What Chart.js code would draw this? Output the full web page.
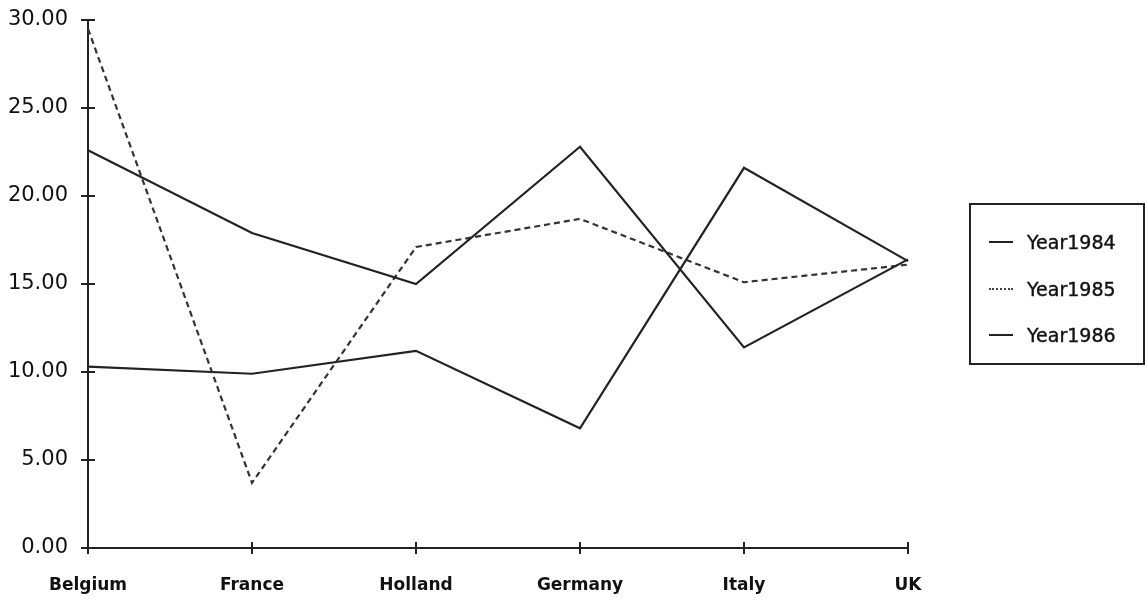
<!DOCTYPE html>
<html lang="en">
<head>
<meta charset="UTF-8" />
<title>Year 1984 - 1986</title>
<script src="https://cdn.jsdelivr.net/npm/chart.js"></script>
<style>
  body { margin: 0; background: #fff; }
  .wrap { position: relative; width: 1145px; height: 604px; }
  #legend {
    position: absolute; left: 969px; top: 203px; width: 172px; height: 158px;
    border: 2px solid #222; box-sizing: content-box;
    font-family: "DejaVu Sans", sans-serif; font-size: 19px; color: #111;
    -webkit-text-stroke: 0.4px #111;
  }
  #legend .row { position: absolute; left: 0; height: 24px; display: flex; align-items: center; }
  #legend .sample { width: 24px; margin-left: 18px; margin-right: 14px; border-top: 2px solid #222; }
  #legend .sample.dash { border-top: 2px dotted #444; }
</style>
</head>
<body>
<div class="wrap">
  <canvas id="chart" width="1145" height="604"></canvas>
  <div id="legend"></div>
</div>
<script>
  const countries = ["Belgium", "France", "Holland", "Germany", "Italy", "UK"];
  const year1984 = [22.6, 17.9, 15.0, 22.8, 11.4, 16.4];
  const year1985 = [29.5, 3.7, 17.1, 18.7, 15.1, 16.1];
  const year1986 = [10.3, 9.9, 11.2, 6.8, 21.6, 16.3];
  const seriesNames = ["Year1984", "Year1985", "Year1986"];
  const yMin = 0, yMax = 30, yStep = 5;

  // legend drawn as html, box at the right
  const legend = document.getElementById("legend");
  seriesNames.forEach((name, i) => {
    const row = document.createElement("div");
    row.className = "row";
    row.style.top = (25 + i * 46.5) + "px";
    const s = document.createElement("span");
    s.className = "sample" + (i === 1 ? " dash" : "");
    const t = document.createElement("span");
    t.textContent = name;
    row.appendChild(s);
    row.appendChild(t);
    legend.appendChild(row);
  });

  // the small ticks cross the axis, draw the inner half
  const innerTicks = {
    id: "innerTicks",
    afterDraw(chart) {
      const { ctx, chartArea } = chart;
      const x = chart.scales.x, y = chart.scales.y;
      ctx.save();
      ctx.strokeStyle = "#222";
      ctx.lineWidth = 2;
      ctx.beginPath();
      y.ticks.forEach((t) => {
        const py = y.getPixelForValue(t.value);
        ctx.moveTo(chartArea.left, py);
        ctx.lineTo(chartArea.left + 7, py);
      });
      x.ticks.forEach((t, i) => {
        const px = x.getPixelForTick(i);
        ctx.moveTo(px, chartArea.bottom);
        ctx.lineTo(px, chartArea.bottom - 6);
      });
      ctx.stroke();
      ctx.restore();
    },
  };

  const line = (label, data, dashed) => ({
    label: label,
    data: data,
    borderColor: dashed ? "#333" : "#222",
    borderWidth: 2.2,
    borderDash: dashed ? [6, 4] : [],
    pointRadius: 0,
    tension: 0,
    fill: false,
  });

  new Chart("chart", {
    type: "line",
    data: {
      labels: countries,
      datasets: [
        line(seriesNames[0], year1984, false),
        line(seriesNames[1], year1985, true),
        line(seriesNames[2], year1986, false),
      ],
    },
    options: {
      responsive: false,
      animation: false,
      layout: { padding: { left: 0, top: 20, right: 237, bottom: 0 } },
      plugins: { legend: { display: false }, tooltip: { enabled: false } },
      scales: {
        x: {
          offset: false,
          afterFit: (s) => { s.height = 56; },
          grid: { drawOnChartArea: false, tickLength: 6, color: "#222", lineWidth: 2 },
          border: { color: "#222", width: 2 },
          ticks: {
            color: "#111",
            padding: 21,
            maxRotation: 0,
            font: { family: "DejaVu Sans", size: 17, weight: "bold" },
          },
        },
        y: {
          min: yMin,
          max: yMax,
          afterFit: (s) => { s.width = 88; s.paddingTop = 0; s.paddingBottom = 0; },
          grid: { drawOnChartArea: false, tickLength: 7, color: "#222", lineWidth: 2 },
          border: { color: "#222", width: 2 },
          ticks: {
            stepSize: yStep,
            color: "#111",
            padding: 13,
            font: { family: "DejaVu Sans", size: 21 },
            callback: (v) => Number(v).toFixed(2),
          },
        },
      },
    },
    plugins: [innerTicks],
  });
</script>
</body>
</html>
